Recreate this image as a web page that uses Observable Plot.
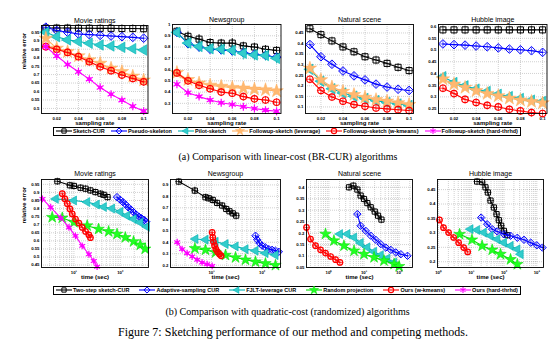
<!DOCTYPE html>
<html><head><meta charset="utf-8">
<script src="https://cdn.jsdelivr.net/npm/d3@7"></script>
<script src="https://cdn.jsdelivr.net/npm/@observablehq/plot@0.6"></script>
<style>
body{margin:0;background:#fff;}
#fig{position:relative;width:559px;height:359px;overflow:hidden;font-family:'Liberation Sans',Arial,sans-serif;}
.legend{position:absolute;border:1.3px solid #000;display:flex;align-items:center;justify-content:space-between;padding:0 2px;box-sizing:border-box;font-size:5.5px;font-weight:bold;height:9px;}
.legend .item{display:flex;align-items:center;white-space:nowrap;}
.legend svg{margin-right:1px;}
.cap{position:absolute;font-family:'Liberation Serif','Times New Roman',serif;white-space:nowrap;transform:translate(-50%,-50%);color:#000;}
</style></head><body><div id="fig"></div>
<script>
// ---------- DATA ----------
const sampleRates = [0.01,0.02,0.03,0.04,0.05,0.06,0.07,0.08,0.09,0.1];
const linearMethods = ["Sketch-CUR","Pseudo-skeleton","Pilot-sketch","Followup-sketch (leverage)","Followup-sketch (w-kmeans)","Followup-sketch (hard-thrhd)"];
const quadMethods = ["Two-step sketch-CUR","Adaptive-sampling CUR","FJLT-leverage CUR","Random projection","Ours (w-kmeans)","Ours (hard-thrhd)"];

const movieLinear = {
  "Sketch-CUR": [0.975,0.975,0.975,0.974,0.974,0.973,0.973,0.972,0.972,0.971],
  "Pseudo-skeleton": [0.98,0.96,0.95,0.94,0.936,0.932,0.928,0.924,0.92,0.915],
  "Pilot-sketch": [0.95,0.924,0.905,0.895,0.885,0.875,0.869,0.861,0.853,0.845],
  "Followup-sketch (leverage)": [0.914,0.855,0.835,0.81,0.786,0.766,0.737,0.717,0.69,0.667],
  "Followup-sketch (w-kmeans)": [0.865,0.849,0.831,0.806,0.776,0.746,0.723,0.697,0.677,0.657],
  "Followup-sketch (hard-thrhd)": [0.865,0.81,0.76,0.717,0.673,0.624,0.584,0.549,0.513,0.484]
};
const newsLinear = {
  "Sketch-CUR": [0.94,0.895,0.87,0.84,0.835,0.835,0.81,0.80,0.78,0.77],
  "Pseudo-skeleton": [0.93,0.83,0.80,0.78,0.775,0.765,0.75,0.735,0.725,0.71],
  "Pilot-sketch": [0.93,0.835,0.805,0.785,0.78,0.77,0.745,0.73,0.725,0.70],
  "Followup-sketch (leverage)": [0.573,0.51,0.48,0.46,0.45,0.44,0.435,0.425,0.42,0.41],
  "Followup-sketch (w-kmeans)": [0.57,0.50,0.46,0.43,0.40,0.39,0.36,0.34,0.33,0.31],
  "Followup-sketch (hard-thrhd)": [0.47,0.395,0.36,0.33,0.305,0.29,0.27,0.255,0.24,0.23]
};
const newsLinearErr = {
  "Sketch-CUR": [0.03,0.04,0.04,0.03,0.03,0.04,0.03,0.03,0.03,0.03],
  "Pseudo-skeleton": [0.02,0.02,0.02,0.02,0.02,0.02,0.02,0.02,0.02,0.02],
  "Pilot-sketch": [0.04,0.05,0.05,0.04,0.05,0.05,0.06,0.05,0.05,0.05]
};
const naturalLinear = {
  "Sketch-CUR": [0.47,0.442,0.4125,0.384,0.361,0.3375,0.322,0.306,0.2875,0.272],
  "Pseudo-skeleton": [0.395,0.3375,0.302,0.27,0.247,0.228,0.208,0.194,0.184,0.178],
  "Pilot-sketch": [0.278,0.222,0.186,0.166,0.151,0.14,0.13,0.121,0.114,0.107],
  "Followup-sketch (leverage)": [0.283,0.228,0.194,0.173,0.158,0.145,0.134,0.127,0.119,0.111],
  "Followup-sketch (w-kmeans)": [0.231,0.178,0.147,0.127,0.111,0.103,0.095,0.091,0.087,0.083]
};
const hubbleLinear = {
  "Sketch-CUR": [0.586,0.586,0.586,0.586,0.586,0.586,0.586,0.586,0.586,0.586],
  "Pseudo-skeleton": [0.526,0.523,0.521,0.517,0.514,0.509,0.504,0.501,0.497,0.49],
  "Pilot-sketch": [0.386,0.361,0.347,0.333,0.323,0.311,0.301,0.293,0.286,0.28],
  "Followup-sketch (leverage)": [0.376,0.354,0.34,0.326,0.314,0.304,0.294,0.286,0.28,0.274],
  "Followup-sketch (w-kmeans)": [0.337,0.314,0.289,0.276,0.264,0.257,0.247,0.24,0.233,0.229]
};

// quadratic-cost: [time (sec)], [relative error]
const movieQuadTime = {
  "Two-step sketch-CUR": [4.4,8.2,10,13.9,17.8,22.7,29,37.3,43.9,53],
  "Adaptive-sampling CUR": [84.8,100,114,130,148,169,193,220,251,286,327,361],
  "FJLT-leverage CUR": [4.05,10,19.3,31,44,66,100,139,193,269,373],
  "Random projection": [3.4,5.6,10,19.3,34,56,85,128,193,269,343],
  "Ours (w-kmeans)": [5.6,6.4,7.2,8.2,9.2,10.8,12.8,15.1,17.8,21,22.7],
  "Ours (hard-thrhd)": [2.1,3.16,5.2,7.8,10.8,15.1,21,26.8,31.6]
};
const movieQuadErr = {
  "Two-step sketch-CUR": [0.969,0.944,0.94,0.929,0.923,0.9125,0.902,0.892,0.885,0.871],
  "Adaptive-sampling CUR": [0.871,0.854,0.84,0.825,0.808,0.794,0.777,0.763,0.75,0.74,0.729,0.719],
  "FJLT-leverage CUR": [0.86,0.85,0.84,0.825,0.81,0.8,0.78,0.756,0.735,0.714,0.687],
  "Random projection": [0.746,0.742,0.715,0.694,0.673,0.658,0.642,0.621,0.596,0.575,0.55],
  "Ours (w-kmeans)": [0.892,0.86,0.83,0.798,0.767,0.735,0.71,0.683,0.658,0.637,0.62],
  "Ours (hard-thrhd)": [0.86,0.808,0.742,0.683,0.631,0.569,0.517,0.475,0.44]
};
const newsQuadTime = {
  "Two-step sketch-CUR": [2.26,4.69,7.6,8.85,10.6,12.9,16.2,19.5,22.6,26.3,30.7],
  "Adaptive-sampling CUR": [73.8,79.6,88.6,100,116,135,157,183,213],
  "FJLT-leverage CUR": [4.8,7.6,12,18.9,29.8,46.8,73.8,116,183],
  "Random projection": [4.7,7.6,12,18.9,29.8,46.8,73.8,116,183],
  "Ours (w-kmeans)": [10.3,10.6,10.9,11.5,12.2,13.1,14.4,15.5],
  "Ours (hard-thrhd)": [2.1,2.63,3.3,4.15,5.2,6.5,8.2,10.3]
};
const newsQuadErr = {
  "Two-step sketch-CUR": [0.929,0.85,0.792,0.783,0.769,0.743,0.72,0.69,0.67,0.652,0.632],
  "Adaptive-sampling CUR": [0.457,0.422,0.393,0.37,0.355,0.34,0.334,0.326,0.317],
  "FJLT-leverage CUR": [0.428,0.422,0.404,0.384,0.364,0.34,0.326,0.305,0.288],
  "Random projection": [0.346,0.334,0.311,0.288,0.267,0.247,0.23,0.215,0.2],
  "Ours (w-kmeans)": [0.486,0.442,0.404,0.37,0.34,0.317,0.296,0.282],
  "Ours (hard-thrhd)": [0.4,0.34,0.305,0.276,0.247,0.224,0.209,0.194]
};
const newsQuadSpread = {
  "Two-step sketch-CUR": [0.015,0.03,0.025,0.025,0.02,0.02,0.02,0.015,0.015,0.01,0.01]
};
const naturalQuadTime = {
  "Two-step sketch-CUR": [3.73,4.96,6.45,8.0,10,12.4,15.5,20.2,25.1,31.3],
  "Adaptive-sampling CUR": [6.45,8.0,11.2,15.5,21.5,29.9,41.6,57.8,80,112,173],
  "FJLT-leverage CUR": [2.06,3.34,5.2,8.0,12.4,19.3,29.9,46,72],
  "Random projection": [0.8,1.39,2.68,5.2,10,19.3,37,72,100],
  "Ours (w-kmeans)": [0.23,0.3,0.416,0.578,0.8,1.12,1.55,2.06]
};
const naturalQuadErr = {
  "Two-step sketch-CUR": [0.4,0.407,0.39,0.364,0.349,0.331,0.313,0.294,0.276,0.259],
  "Adaptive-sampling CUR": [0.283,0.232,0.21,0.189,0.171,0.152,0.137,0.127,0.116,0.108,0.101],
  "FJLT-leverage CUR": [0.196,0.196,0.181,0.157,0.138,0.119,0.104,0.089,0.072],
  "Random projection": [0.196,0.167,0.145,0.123,0.108,0.094,0.08,0.065,0.055],
  "Ours (w-kmeans)": [0.225,0.174,0.145,0.127,0.113,0.098,0.084,0.072]
};
const hubbleQuadTime = {
  "Two-step sketch-CUR": [15,21.4,27.1,32,38.6,48.9,59,69.4,81.6,99,125],
  "Adaptive-sampling CUR": [20,30.5,43.4,61.9,99,158,254,406,651,998,1488],
  "FJLT-leverage CUR": [9.4,15,24,38.6,61.9,99,158,254,320],
  "Random projection": [4.4,10.5,21.4,43.4,78,158,254],
  "Ours (w-kmeans)": [1.07,1.42,2.03,2.89,4.11,5.86,7.77]
};
const hubbleQuadErr = {
  "Two-step sketch-CUR": [0.478,0.476,0.458,0.44,0.412,0.388,0.365,0.344,0.325,0.307,0.292],
  "Adaptive-sampling CUR": [0.353,0.33,0.313,0.305,0.295,0.29,0.283,0.276,0.266,0.257,0.249],
  "FJLT-leverage CUR": [0.313,0.31,0.301,0.29,0.278,0.266,0.255,0.243,0.226],
  "Random projection": [0.295,0.276,0.255,0.241,0.226,0.208,0.191],
  "Ours (w-kmeans)": [0.345,0.318,0.301,0.284,0.266,0.249,0.234]
};

// tick values
const rateTicks = [0.02,0.04,0.06,0.08,0.1];
const movieLinTicks = [0.5,0.55,0.6,0.65,0.7,0.75,0.8,0.85,0.9,0.95];
const newsLinTicks = [0.3,0.4,0.5,0.6,0.7,0.8,0.9,1];
const naturalLinTicks = [0.1,0.15,0.2,0.25,0.3,0.35,0.4,0.45];
const hubbleLinTicks = [0.25,0.3,0.35,0.4,0.45,0.5,0.55,0.6];
const movieQuadTicks = [0.45,0.5,0.55,0.6,0.65,0.7,0.75,0.8,0.85,0.9,0.95];
const newsQuadTicks = [0.2,0.3,0.4,0.5,0.6,0.7,0.8,0.9];
const naturalQuadTicks = [0.05,0.1,0.15,0.2,0.25,0.3,0.35,0.4];
const hubbleQuadTicks = [0.2,0.25,0.3,0.35,0.4,0.45];

// ---------- STYLE ----------
const styles = [
  {color:"#000000", fill:"#000000", sym:"square"},
  {color:"#0000ff", fill:"#0000ff", sym:"diamond"},
  {color:"#00b3b3", fill:"#33cccc", sym:"triangleLeft"},
  {color:"#ffb060", fill:"#ffb870", sym:"star"},
  {color:"#ff0000", fill:"#ff0000", sym:"circlePlus"},
  {color:"#ff00ff", fill:"#ff00ff", sym:"asterisk"}
];
const quadStyles = [
  styles[0], styles[1], styles[2],
  {color:"#00dd00", fill:"#22ff22", sym:"star"},
  styles[4], styles[5]
];

const fig = document.getElementById("fig");
const fmtNum = d => String(+d.toFixed(2));
const sup = {"-1":"⁻¹","0":"⁰","1":"¹","2":"²","3":"³"};
const fmtLog = d => "10" + sup[String(Math.round(Math.log10(d)))];

function seriesMarks(rows, st, r) {
  const b = {x:"x", y:"y"};
  const m = [Plot.line(rows, {...b, stroke: st.color, strokeWidth: 1.1})];
  switch (st.sym) {
    case "square":
      m.push(Plot.dot(rows, {...b, symbol:"square", r, fill:"none", stroke:st.color, strokeWidth:1}));
      m.push(Plot.dot(rows, {...b, symbol:"plus", r:r*0.85, stroke:st.color, strokeWidth:0.7}));
      break;
    case "diamond":
      m.push(Plot.dot(rows, {...b, symbol:"diamond2", r:r*1.15, fill:"none", stroke:st.color, strokeWidth:1}));
      m.push(Plot.dot(rows, {...b, symbol:"plus", r:r*0.7, stroke:st.color, strokeWidth:0.6}));
      break;
    case "triangleLeft":
      m.push(Plot.dot(rows, {...b, symbol:"triangle", rotate:-90, r:r*1.15, fill:st.fill, stroke:st.color, strokeWidth:0.6}));
      break;
    case "star":
      m.push(Plot.dot(rows, {...b, symbol:"star", r:r*1.25, fill:st.fill, stroke:st.color, strokeWidth:0.5}));
      break;
    case "circlePlus":
      m.push(Plot.dot(rows, {...b, symbol:"circle", r:r*0.95, fill:"none", stroke:st.color, strokeWidth:1.2}));
      m.push(Plot.dot(rows, {...b, symbol:"plus", r:r*0.8, stroke:st.color, strokeWidth:0.7}));
      break;
    case "asterisk":
      m.push(Plot.dot(rows, {...b, symbol:"circle", r:r*0.6, fill:st.fill, stroke:"none"}));
      m.push(Plot.dot(rows, {...b, symbol:"asterisk", r:r*1.1, stroke:st.color, strokeWidth:1.2}));
      break;
  }
  return m;
}

function logGrid([lo, hi]) {
  const out = [];
  for (let k = Math.floor(Math.log10(lo)); k <= Math.ceil(Math.log10(hi)); k++)
    for (let j = 1; j <= 9; j++) { const v = j * Math.pow(10, k); if (v > lo && v < hi) out.push(v); }
  return out;
}

function makePanel(cfg) {
  const [x0, y0, x1, y1] = cfg.frame;
  const mL = 22, mR = 4, mT = 14, mB = 16;
  const w = x1 - x0 + mL + mR, h = y1 - y0 + mT + mB;
  const gridStyle = {stroke:"#777", strokeDasharray:"0.7,1.3", strokeWidth:0.5, strokeOpacity:1};
  const marks = [
    Plot.gridX(cfg.log ? logGrid(cfg.xDomain) : cfg.xTicks, gridStyle),
    Plot.gridY(cfg.yTicks, gridStyle)
  ];
  cfg.series.forEach(s => {
    if (s.err) marks.push(Plot.ruleX(s.rows, {x:"x", y1:d => d.y - d.e, y2:d => d.y + d.e, stroke:s.style.color, strokeWidth:0.8}));
    marks.push(...seriesMarks(s.rows, s.style, cfg.r));
  });
  marks.push(
    Plot.frame({stroke:"#000", strokeWidth:0.9}),
    Plot.axisX(cfg.xTicks, {tickSize:0, tickPadding:3, fontSize:4.3, fontWeight:"bold", tickFormat: cfg.log ? fmtLog : fmtNum, label:null}),
    Plot.axisY(cfg.yTicks, {tickSize:0, tickPadding:2, fontSize:4.3, fontWeight:"bold", tickFormat: fmtNum, label:null}),
    Plot.text([cfg.title], {text:d => d, frameAnchor:"top", lineAnchor:"middle", dy:cfg.titleDy, fontSize:7, fontWeight:"500"}),
    Plot.text([cfg.xlabel], {text:d => d, frameAnchor:"bottom", lineAnchor:"middle", dy:cfg.xlabelDy, fontSize:6, fontWeight:"bold"})
  );
  if (cfg.ylabel) marks.push(Plot.text(["relative error"], {text:d => d, frameAnchor:"left", lineAnchor:"middle", dx:-17, rotate:-90, fontSize:6, fontWeight:"bold"}));
  const svg = Plot.plot({
    width:w, height:h, marginLeft:mL, marginRight:mR, marginTop:mT, marginBottom:mB,
    x: cfg.log ? {type:"log", domain:cfg.xDomain} : {domain:cfg.xDomain},
    y: {domain:cfg.yDomain},
    style:{background:"transparent", overflow:"visible", fontFamily:"'Liberation Sans', Arial, sans-serif", color:"#000"},
    marks
  });
  svg.style.position = "absolute";
  svg.style.left = (x0 - mL) + "px";
  svg.style.top = (y0 - mT) + "px";
  fig.appendChild(svg);
}

function linearSeries(table, errTable) {
  return linearMethods.map((m, i) => table[m] ? {
    style: styles[i],
    err: !!(errTable && errTable[m]),
    rows: sampleRates.map((x, j) => ({x, y: table[m][j], e: errTable && errTable[m] ? errTable[m][j] : 0}))
  } : null).filter(Boolean);
}
function quadSeries(tt, et, spread) {
  return quadMethods.map((m, i) => tt[m] ? {
    style: quadStyles[i],
    err: !!(spread && spread[m]),
    rows: tt[m].map((x, j) => ({x, y: et[m][j], e: spread && spread[m] ? spread[m][j] : 0}))
  } : null).filter(Boolean);
}

const topCommon = {xTicks:rateTicks, xDomain:[0.006,0.104], xlabel:"sampling rate", r:3.4, titleDy:-4.5, xlabelDy:9.5};
makePanel({...topCommon, title:"Movie ratings", frame:[41,25,147.5,113], yTicks:movieLinTicks, yDomain:[0.47,0.99], ylabel:true, series:linearSeries(movieLinear)});
makePanel({...topCommon, title:"Newsgroup", frame:[171.5,24,280,113], yTicks:newsLinTicks, yDomain:[0.21,1.0], series:linearSeries(newsLinear, newsLinearErr)});
makePanel({...topCommon, title:"Natural scene", frame:[305,24,413,113], yTicks:naturalLinTicks, yDomain:[0.069,0.49], series:linearSeries(naturalLinear)});
makePanel({...topCommon, title:"Hubble image", frame:[438,24,546.5,113], yTicks:hubbleLinTicks, yDomain:[0.229,0.609], series:linearSeries(hubbleLinear)});

const botCommon = {log:true, xlabel:"time (sec)", r:2.9, titleDy:-6, xlabelDy:10};
makePanel({...botCommon, title:"Movie ratings", frame:[41,179,148,267], xTicks:[10,100], xDomain:[2,405], yTicks:movieQuadTicks, yDomain:[0.435,0.98], ylabel:true, series:quadSeries(movieQuadTime, movieQuadErr)});
makePanel({...botCommon, title:"Newsgroup", frame:[170,179,280,267], xTicks:[10,100], xDomain:[1.55,230], yTicks:newsQuadTicks, yDomain:[0.18,0.947], series:quadSeries(newsQuadTime, newsQuadErr, newsQuadSpread)});
makePanel({...botCommon, title:"Natural scene", frame:[306,179,412,267], xTicks:[1,10,100], xDomain:[0.23,240], yTicks:naturalQuadTicks, yDomain:[0.05,0.434], series:quadSeries(naturalQuadTime, naturalQuadErr)});
makePanel({...botCommon, title:"Hubble image", frame:[437,179,543,267], xTicks:[1,10,100,1000], xDomain:[0.93,1600], yTicks:hubbleQuadTicks, yDomain:[0.18,0.485], series:quadSeries(hubbleQuadTime, hubbleQuadErr)});

// ---------- LEGENDS ----------
function legendIcon(st) {
  const svg = d3.create("svg").attr("width", 16).attr("height", 8);
  svg.append("line").attr("x1", 0).attr("x2", 16).attr("y1", 4).attr("y2", 4).attr("stroke", st.color).attr("stroke-width", 1.1);
  const g = svg.append("g").attr("transform", "translate(8,4)");
  const sym = (t, s) => d3.symbol().type(t).size(s)();
  if (st.sym === "square") {
    g.append("path").attr("d", sym(d3.symbolSquare, 18)).attr("fill", "none").attr("stroke", st.color);
    g.append("path").attr("d", sym(d3.symbolPlus, 20)).attr("fill", st.color);
  } else if (st.sym === "diamond") {
    g.append("path").attr("d", sym(d3.symbolDiamond2, 24)).attr("fill", "none").attr("stroke", st.color);
  } else if (st.sym === "triangleLeft") {
    g.append("path").attr("d", sym(d3.symbolTriangle, 20)).attr("transform", "rotate(-90)").attr("fill", st.fill).attr("stroke", st.color).attr("stroke-width", 0.5);
  } else if (st.sym === "star") {
    g.append("path").attr("d", sym(d3.symbolStar, 26)).attr("fill", st.fill).attr("stroke", st.color).attr("stroke-width", 0.5);
  } else if (st.sym === "circlePlus") {
    g.append("path").attr("d", sym(d3.symbolCircle, 22)).attr("fill", "none").attr("stroke", st.color).attr("stroke-width", 1.1);
  } else {
    g.append("path").attr("d", sym(d3.symbolAsterisk, 24)).attr("fill", "none").attr("stroke", st.color).attr("stroke-width", 1.1);
  }
  return svg.node();
}
function makeLegend(names, stys, top) {
  const div = document.createElement("div");
  div.className = "legend";
  div.style.left = "53px"; div.style.top = top + "px"; div.style.width = "468px";
  names.forEach((n, i) => {
    const it = document.createElement("div"); it.className = "item";
    it.appendChild(legendIcon(stys[i]));
    const sp = document.createElement("span"); sp.textContent = n; it.appendChild(sp);
    div.appendChild(it);
  });
  fig.appendChild(div);
}
makeLegend(linearMethods, styles, 126.5);
makeLegend(quadMethods, quadStyles, 285.5);

function caption(text, cx, cy, size) {
  const d = document.createElement("div"); d.className = "cap";
  d.style.left = cx + "px"; d.style.top = cy + "px"; d.style.fontSize = size + "px";
  d.textContent = text; fig.appendChild(d);
}
caption("(a) Comparison with linear-cost (BR-CUR) algorithms", 288, 156, 10);
caption("(b) Comparison with quadratic-cost (randomized) algorithms", 287.5, 311, 10);
caption("Figure 7: Sketching performance of our method and competing methods.", 293, 332, 12);
</script></body></html>
